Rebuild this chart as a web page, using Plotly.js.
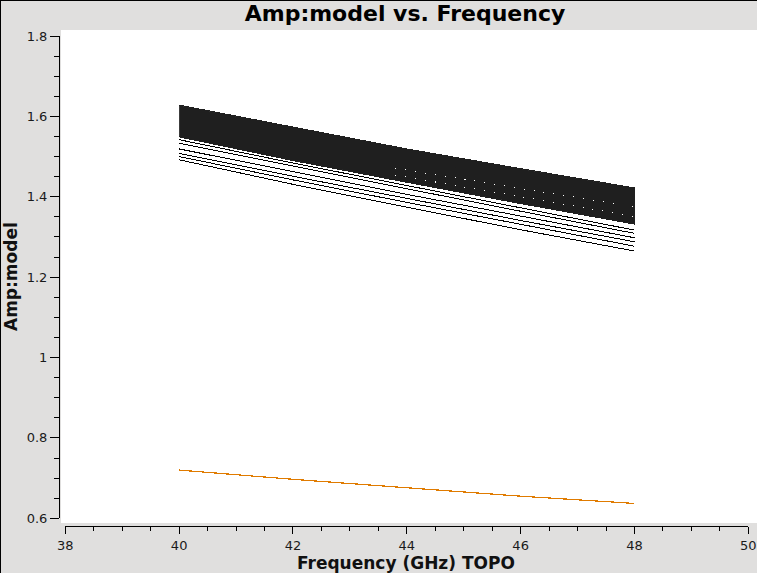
<!DOCTYPE html>
<html>
<head>
<meta charset="utf-8">
<script src="https://cdn.plot.ly/plotly-3.0.1.min.js"></script>
<style>
  html, body { margin: 0; padding: 0; background: #e0dfde; }
  #chart { width: 757px; height: 573px; }
  .js-line { shape-rendering: crispEdges; }
</style>
</head>
<body>
<div id="chart"></div>
<script>
const freq = [40, 42, 44, 46, 48];

// Dense black band of model amplitudes (upper and lower envelopes)
const bandTop    = [1.628, 1.573, 1.519, 1.470, 1.422];
const bandBottom = [1.549, 1.490, 1.436, 1.383, 1.332];

// Separate model-amplitude curves below the band
const line1 = [1.542, 1.484, 1.428, 1.372, 1.317];
const line2 = [1.533, 1.476, 1.420, 1.364, 1.309];
const line3 = [1.519, 1.462, 1.406, 1.352, 1.298];
const line4 = [1.508, 1.451, 1.396, 1.341, 1.288];
const line5 = [1.500, 1.442, 1.386, 1.331, 1.277];
const line6 = [1.492, 1.431, 1.374, 1.318, 1.265];

// Sparse white gaps visible inside the band
const gapFreq = [43.8, 48];
const gapRow1 = [1.471, 1.375];
const gapRow2 = [1.454, 1.351];

// Orange curve
const orangeAmp = [0.720, 0.697, 0.676, 0.655, 0.637];

// Axis ticks
const xTicks = [38, 40, 42, 44, 46, 48, 50];
const yTicks = [0.6, 0.8, 1, 1.2, 1.4, 1.6, 1.8];

const FONT = 'DejaVu Sans, Liberation Sans, sans-serif';

const traces = [];
// band polygon
traces.push({
  x: freq.concat(freq.slice().reverse()),
  y: bandTop.concat(bandBottom.slice().reverse()),
  type: 'scatter', mode: 'lines', fill: 'toself',
  fillcolor: '#1f1f1f', line: {color: '#1f1f1f', width: 1},
  hoverinfo: 'skip', showlegend: false
});
[gapRow1, gapRow2].forEach(function (ys) {
  traces.push({
    x: gapFreq, y: ys, type: 'scatter', mode: 'lines',
    line: {color: '#ffffff', width: 1, dash: '1px,9px'}, showlegend: false
  });
});
[line1, line2, line3, line4, line5, line6].forEach(function (ys) {
  traces.push({
    x: freq, y: ys, type: 'scatter', mode: 'lines',
    line: {color: '#000000', width: 1}, showlegend: false
  });
});
traces.push({
  x: freq, y: orangeAmp, type: 'scatter', mode: 'lines',
  line: {color: '#e07b00', width: 1.2}, showlegend: false
});

// geometry (pixels)
const W = 757, H = 573;
const L = 59, T = 30, B = 47, R = 0;
const pw = W - L - R, ph = H - T - B;
function px2paperX(px) { return (px - L) / pw; }
function py2paperY(py) { return (H - B - py) / ph; }

const layout = {
  width: W, height: H,
  margin: {l: L, r: R, t: T, b: B, pad: 0},
  paper_bgcolor: '#e0dfde',
  plot_bgcolor: 'rgba(0,0,0,0)',
  showlegend: false,
  font: {family: FONT, color: '#1a1a1a', size: 13},
  title: {
    text: '<b>Amp:model vs. Frequency</b>',
    font: {family: FONT, size: 22, color: '#000000'},
    x: 405 / W, xanchor: 'center', xref: 'container',
    y: 1 - 13 / H, yanchor: 'middle', yref: 'container'
  },
  xaxis: {
    range: [38, 50],
    domain: [px2paperX(65.3), px2paperX(748.3)],
    anchor: 'free', position: 0,
    showline: true, linecolor: '#000000', linewidth: 1,
    ticks: 'outside', ticklen: 7, tickcolor: '#000000', tickwidth: 1,
    tickvals: xTicks, ticktext: xTicks.map(String),
    showgrid: false, zeroline: false,
    tickfont: {family: FONT, size: 13, color: '#1a1a1a'},
    minor: {dtick: 0.5, tick0: 38, ticks: 'outside', ticklen: 4, tickcolor: '#000000', showgrid: false}
  },
  yaxis: {
    range: [0.6, 1.8],
    domain: [py2paperY(518.3), py2paperY(36)],
    anchor: 'free', position: 0,
    showline: true, linecolor: '#000000', linewidth: 1,
    ticks: 'outside', ticklen: 9, tickcolor: '#000000', tickwidth: 1,
    tickvals: yTicks, ticktext: yTicks.map(String),
    showgrid: false, zeroline: false,
    tickfont: {family: FONT, size: 13, color: '#1a1a1a'},
    minor: {dtick: 0.05, tick0: 0.6, ticks: 'outside', ticklen: 5, tickcolor: '#000000', showgrid: false}
  },
  shapes: [
    {type: 'rect', xref: 'paper', yref: 'paper', layer: 'below',
     x0: px2paperX(61), x1: px2paperX(757), y0: py2paperY(523), y1: py2paperY(30),
     fillcolor: '#ffffff', line: {width: 0}},
    {type: 'line', xref: 'paper', yref: 'paper', layer: 'above',
     x0: px2paperX(0), x1: px2paperX(757), y0: py2paperY(0.5), y1: py2paperY(0.5),
     line: {color: '#000000', width: 1}},
    {type: 'line', xref: 'paper', yref: 'paper', layer: 'above',
     x0: px2paperX(0.5), x1: px2paperX(0.5), y0: py2paperY(0), y1: py2paperY(573),
     line: {color: '#000000', width: 1}}
  ],
  annotations: [
    {text: '<b>Frequency (GHz) TOPO</b>', xref: 'paper', yref: 'paper',
     x: px2paperX(406), y: py2paperY(563), xanchor: 'center', yanchor: 'middle',
     showarrow: false, font: {family: FONT, size: 17, color: '#111111'}},
    {text: '<b>Amp:model</b>', xref: 'paper', yref: 'paper', textangle: -90,
     x: px2paperX(11), y: py2paperY(277), xanchor: 'center', yanchor: 'middle',
     showarrow: false, font: {family: FONT, size: 17, color: '#111111'}}
  ]
};

Plotly.newPlot('chart', traces, layout, {displayModeBar: false, staticPlot: true});
</script>
</body>
</html>
